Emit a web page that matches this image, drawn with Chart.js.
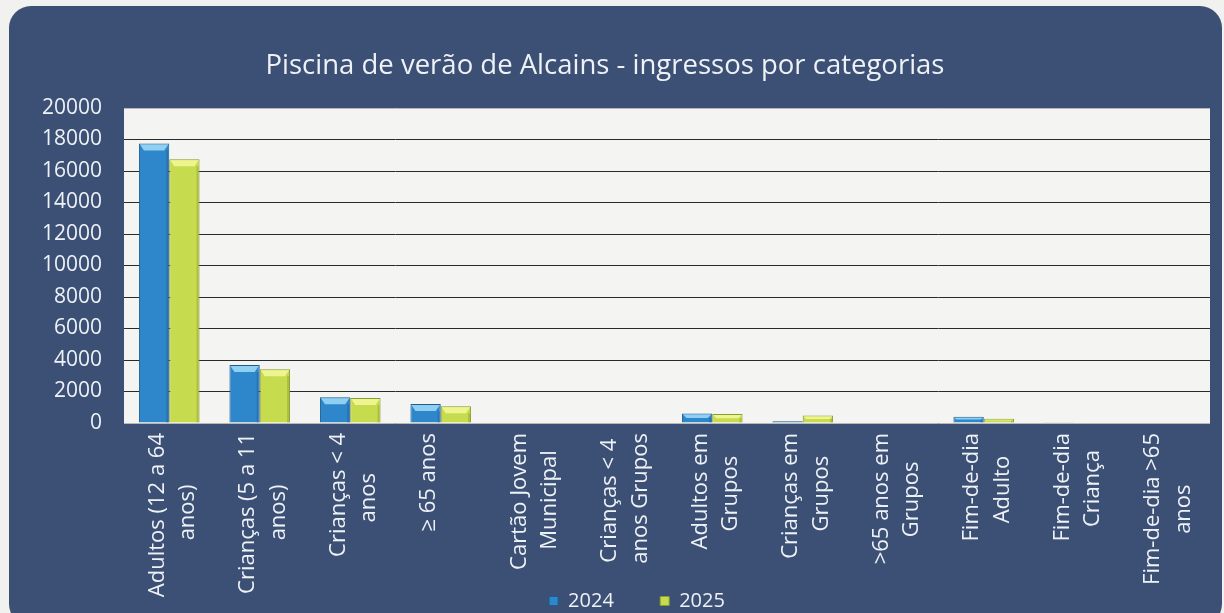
<!DOCTYPE html>
<html>
<head>
<meta charset="utf-8">
<script src="https://cdn.jsdelivr.net/npm/chart.js@4.4.1/dist/chart.umd.min.js"></script>
<style>
  html, body { margin: 0; padding: 0; background: #f1f1ef; }
  #wrap { width: 1224px; height: 613px; }
</style>
</head>
<body>
<div id="wrap"><canvas id="mycanvas" width="1224" height="613"></canvas></div>
<script>
// categorias (linhas do rótulo)
var categorias = [
	["Adultos (12 a 64", "anos)"],
	["Crianças (5 a 11", "anos)"],
	["Crianças < 4", "anos"],
	["≥ 65 anos"],
	["Cartão Jovem", "Municipal"],
	["Crianças < 4", "anos Grupos"],
	["Adultos em", "Grupos"],
	["Crianças em", "Grupos"],
	[">65 anos em", "Grupos"],
	["Fim-de-dia", "Adulto"],
	["Fim-de-dia", "Criança"],
	["Fim-de-dia >65", "anos"]
];
var anos = ["2024", "2025"];
var valores2024 = [17750, 3680, 1630, 1200, 0, 0, 600, 110, 0, 400, 40, 0];
var valores2025 = [16750, 3420, 1590, 1060, 0, 0, 570, 470, 0, 270, 25, 0];
var yTicks = [0, 2000, 4000, 6000, 8000, 10000, 12000, 14000, 16000, 18000, 20000];

var textColor = "#eef1f6";
var fontFamily = "'Open Sans', 'Liberation Sans', sans-serif";
var labelSize = 22;

// centra a linha mais curta de cada rótulo (o texto rodado fica alinhado à direita)
var mctx = document.createElement("canvas").getContext("2d");
mctx.font = labelSize + "px " + fontFamily;
function centrarLinhas(linhas) {
	if (linhas.length < 2) return linhas;
	var w = linhas.map(function(l){ return mctx.measureText(l).width; });
	var maxW = Math.max.apply(null, w);
	var sp = mctx.measureText(" ").width;
	return linhas.map(function(l, i){
		var n = Math.round((maxW - w[i]) / 2 / sp);
		return l + " ".repeat(n);
	});
}

var fundo = {
	id: "fundo",
	beforeDraw: function(chart) {
		var ctx = chart.ctx, a = chart.chartArea;
		ctx.save();
		ctx.fillStyle = "#3b5074";
		ctx.beginPath();
		ctx.roundRect(9, 6, 1213, 620, 22);
		ctx.fill();
		ctx.fillStyle = "#f4f4f2";
		ctx.fillRect(a.left, a.top, a.right - a.left, a.bottom - a.top);
		ctx.restore();
	},
	afterLayout: function(chart) {
		// a legenda do original está um pouco à direita do centro
		chart.legend.left += 32;
		chart.legend.right += 32;
		// os rótulos do eixo x descem por cima da zona da legenda
		chart.scales.x.bottom = chart.height;
	}
};

// efeito de relevo nas barras (tampa clara em cima)
var relevo = {
	id: "relevo",
	afterDatasetsDraw: function(chart) {
		var ctx = chart.ctx;
		var tampas = ["#8fd0f2", "#eef58e"];
		var lados = ["#1f5f96", "#8d9d2c"];
		chart.data.datasets.forEach(function(ds, di) {
			chart.getDatasetMeta(di).data.forEach(function(bar) {
				var h = bar.base - bar.y;
				if (h < 2) return;
				var l = bar.x - bar.width / 2, r = bar.x + bar.width / 2;
				var cap = Math.min(7, h / 2), ins = Math.min(5, h / 2);
				ctx.save();
				ctx.fillStyle = tampas[di];
				ctx.beginPath();
				ctx.moveTo(l + 1, bar.y + 1);
				ctx.lineTo(r - 1, bar.y + 1);
				ctx.lineTo(r - ins, bar.y + cap);
				ctx.lineTo(l + ins, bar.y + cap);
				ctx.closePath();
				ctx.fill();
				ctx.fillStyle = lados[di];
				ctx.globalAlpha = 0.45;
				ctx.fillRect(r - 3, bar.y + cap, 2, h - cap);
				ctx.restore();
			});
		});
	}
};

var chartdata = {
	labels: categorias,
	datasets: [
		{
			label: anos[0],
			data: valores2024,
			backgroundColor: "#2e86cb",
			borderColor: "#1d5d8f",
			borderWidth: 1
		},
		{
			label: anos[1],
			data: valores2025,
			backgroundColor: "#c6dc4e",
			borderColor: "#8a9a33",
			borderWidth: 1
		}
	]
};

var ctx = document.getElementById("mycanvas");
var barGraph = new Chart(ctx, {
	type: "bar",
	data: chartdata,
	plugins: [fundo, relevo],
	options: {
		responsive: false,
		animation: false,
		layout: { padding: { left: 0, right: 14, top: 0, bottom: -8 } },
		datasets: { bar: { categoryPercentage: 0.67, barPercentage: 1.0 } },
		plugins: {
			title: {
				display: true,
				text: "Piscina de verão de Alcains - ingressos por categorias",
				color: textColor,
				font: { family: fontFamily, size: 27.5, weight: "normal" },
				padding: { top: 50, bottom: 25 }
			},
			legend: {
				position: "bottom",
				labels: {
					color: textColor,
					font: { family: fontFamily, size: 20, lineHeight: 1 },
					boxWidth: 9,
					boxHeight: 9,
					padding: 10,
					generateLabels: function(chart) {
						var items = Chart.defaults.plugins.legend.labels.generateLabels(chart);
						items[0].text = items[0].text + "       ";
						return items;
					}
				}
			},
			tooltip: { enabled: false }
		},
		scales: {
			x: {
				grid: { display: false },
				border: { display: false },
				ticks: {
					color: textColor,
					font: { family: fontFamily, size: labelSize, lineHeight: 1.4 },
					minRotation: 90,
					maxRotation: 90,
					autoSkip: false,
					padding: 2,
					labelOffset: -12,
					callback: function(v, i) { return centrarLinhas(categorias[i]); }
				},
				afterFit: function(s) {
					s.height = 158;
					s.paddingLeft = 0;
					s.paddingRight = 0;
				}
			},
			y: {
				min: 0,
				max: 20000,
				border: { display: false },
				grid: {
					drawTicks: false,
					lineWidth: 1,
					color: function(c) {
						var v = c.tick ? c.tick.value : 0;
						return (v === 0 || v === 20000) ? "#b8b8b8" : "#2a2a2a";
					}
				},
				afterBuildTicks: function(s) { s.ticks = yTicks.map(function(v){ return { value: v }; }); },
				ticks: {
					color: textColor,
					font: { family: fontFamily, size: 21 },
					padding: 22,
					callback: function(v) { return String(v); }
				},
				afterFit: function(s) { s.width = 124; }
			}
		}
	}
});
</script>
</body>
</html>
